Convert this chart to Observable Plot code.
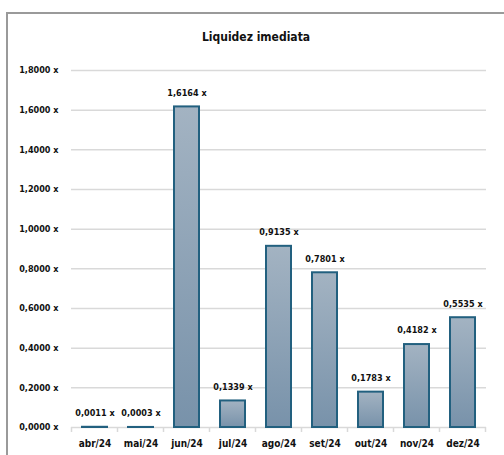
<!DOCTYPE html>
<html><head><meta charset="utf-8">
<script src="https://cdn.jsdelivr.net/npm/d3@7"></script>
<script src="https://cdn.jsdelivr.net/npm/@observablehq/plot@0.6"></script>
<style>
html,body{margin:0;padding:0;background:#fff;}
#wrap{position:relative;width:504px;height:455px;overflow:hidden;}
#frame{position:absolute;left:6px;top:12px;width:520px;height:460px;border-left:2px solid #9a9a9a;border-top:2px solid #9a9a9a;box-sizing:border-box;}
#chart{position:absolute;left:0;top:0;}
</style></head>
<body><div id="wrap"><div id="frame"></div><div id="chart"></div></div>
<script>
const months = ["abr/24","mai/24","jun/24","jul/24","ago/24","set/24","out/24","nov/24","dez/24"];
const values = [0.0011,0.0003,1.6164,0.1339,0.9135,0.7801,0.1783,0.4182,0.5535];
const yTicks = [0,0.2,0.4,0.6,0.8,1.0,1.2,1.4,1.6,1.8];
const title = "Liquidez imediata";

const data = months.map((m,i)=>({month:m, value:values[i]}));
const fmt = v => v.toFixed(4).replace(".", ",") + " x";
const font = "'Liberation Sans Narrow','DejaVu Sans Condensed','Liberation Sans',sans-serif";

const chart = Plot.plot({
  width: 504, height: 455,
  marginLeft: 71, marginRight: 18, marginTop: 70, marginBottom: 28,
  style: {fontFamily: font, fontWeight: "bold", fontSize: "10px", color: "#111", background: "transparent"},
  x: {domain: months, paddingInner: 0.45, paddingOuter: 0.225, label: null, tickSize: 0, tickPadding: 12},
  y: {domain: [0,1.8], ticks: yTicks, tickFormat: fmt, label: null, tickSize: 0, tickPadding: 13},
  marks: [
    Plot.gridY(yTicks.slice(1), {stroke: "#d9d9d9", strokeOpacity: 1, strokeWidth: 1.5}),
    Plot.ruleY([0], {stroke: "#d9d9d9", strokeWidth: 1.5}),
    Plot.barY(data, {x: "month", y: "value", fill: "url(#barGrad)", stroke: "#22607f", strokeWidth: 2}),
    Plot.text(data, {x: "month", y: "value", text: d=>fmt(d.value), dy: -14, fill: "#111", fontSize: 9}),
    Plot.text([title], {frameAnchor: "top", dy: -38, dx: -23, fontSize: 12, fill: "#111"})
  ]
});

// y tick labels smaller
chart.querySelectorAll("g[aria-label='y-axis tick label'] text").forEach(t=>t.setAttribute("font-size","9"));

// gradient defs
const svgNS = "http://www.w3.org/2000/svg";
const defs = document.createElementNS(svgNS, "defs");
const lg = document.createElementNS(svgNS, "linearGradient");
lg.setAttribute("id","barGrad"); lg.setAttribute("x1","0"); lg.setAttribute("y1","0"); lg.setAttribute("x2","0"); lg.setAttribute("y2","1");
[["0%","#a3b3c2"],["100%","#7892aa"]].forEach(([o,c])=>{
  const s=document.createElementNS(svgNS,"stop"); s.setAttribute("offset",o); s.setAttribute("stop-color",c); lg.appendChild(s);
});
defs.appendChild(lg);
chart.insertBefore(defs, chart.firstChild);

// category boundary ticks under the baseline, using the x scale
const xs = chart.scale("x"), ys = chart.scale("y");
const step = xs.step, bw = xs.bandwidth;
const y0 = ys.apply(0);
const g = document.createElementNS(svgNS, "g");
const first = xs.apply(months[0]) - (step - bw)/2;
for (let i=0;i<=months.length;i++){
  const x = first + i*step;
  const l = document.createElementNS(svgNS,"line");
  l.setAttribute("x1",x); l.setAttribute("x2",x); l.setAttribute("y1",y0); l.setAttribute("y2",y0+5);
  l.setAttribute("stroke","#d9d9d9"); l.setAttribute("stroke-width","1.5");
  g.appendChild(l);
}
chart.appendChild(g);
document.getElementById("chart").appendChild(chart);
</script></body></html>
